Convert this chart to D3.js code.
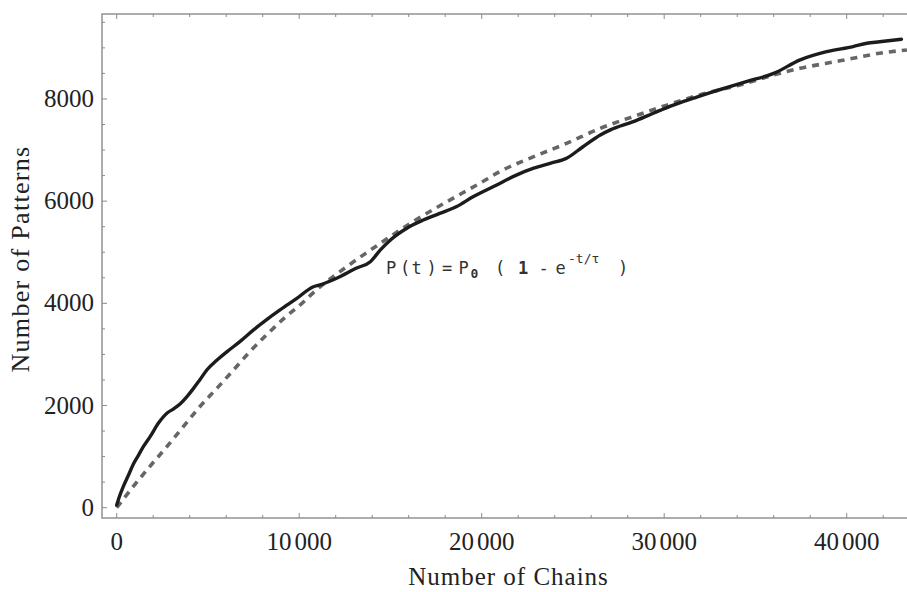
<!DOCTYPE html>
<html>
<head>
<meta charset="utf-8">
<script src="https://cdn.jsdelivr.net/npm/d3@7"></script>
<style>
  html, body { margin: 0; padding: 0; background: #fff; }
  svg { display: block; }
</style>
</head>
<body>
<svg id="chart" width="907" height="592"></svg>
<script>
// ---- data ----
const chainsObserved = [0, 150, 360, 650, 910, 1200, 1460, 1850, 2280, 2750, 3100, 3500, 3850, 4200, 4550, 4950, 5500, 6050, 6750, 7500, 8200, 8950, 9850, 10750, 11150, 12050, 13150, 13900, 14450, 15000, 15900, 16800, 17700, 18600, 19550, 20650, 21900, 22850, 23750, 24650, 25550, 26500, 27050, 28300, 29400, 30500, 31600, 32700, 33500, 34500, 36000, 37450, 38900, 40350, 41100, 41800, 43000];
const patternsObserved = [50, 220, 411, 640, 850, 1030, 1194, 1400, 1652, 1850, 1930, 2040, 2175, 2330, 2500, 2700, 2890, 3055, 3250, 3480, 3675, 3870, 4090, 4320, 4360, 4490, 4690, 4815, 5045, 5240, 5470, 5630, 5760, 5890, 6090, 6285, 6510, 6645, 6740, 6840, 7065, 7295, 7395, 7555, 7720, 7880, 8015, 8145, 8230, 8340, 8500, 8765, 8925, 9025, 9090, 9120, 9170];

const chainsFit = [0, 900, 1800, 2750, 3650, 4550, 5500, 6400, 7300, 8200, 9150, 10250, 10750, 12600, 14450, 16250, 18100, 19900, 21000, 22850, 24650, 26500, 28300, 30150, 31950, 34150, 36000, 37450, 38900, 40350, 41800, 43300];
const patternsFit = [0, 410, 800, 1195, 1585, 1975, 2340, 2695, 3055, 3380, 3700, 4030, 4200, 4715, 5175, 5600, 5990, 6350, 6580, 6870, 7130, 7425, 7655, 7880, 8080, 8275, 8470, 8600, 8700, 8795, 8895, 8960];

const xMajorTicks = [0, 10000, 20000, 30000, 40000];
const xTickLabels = ["0", "10000", "20000", "30000", "40000"];
const yMajorTicks = [0, 2000, 4000, 6000, 8000];
const yTickLabels = ["0", "2000", "4000", "6000", "8000"];

const xTitle = "Number of Chains";
const yTitle = "Number of Patterns";

// ---- layout ----
const svg = d3.select("#chart");
const pL = 102, pR = 909, pT = 14, pB = 518;

const x = d3.scaleLinear().domain([-805, 43414]).range([pL, pR]);
const y = d3.scaleLinear().domain([-202, 9663]).range([pB, pT]);

const frameColor = "#8a8a8a";
const serif = "'Liberation Serif', 'Times New Roman', serif";

// clip
svg.append("defs").append("clipPath").attr("id", "clip")
  .append("rect").attr("x", pL).attr("y", pT).attr("width", pR - pL).attr("height", pB - pT);

// frame
svg.append("rect")
  .attr("x", pL).attr("y", pT)
  .attr("width", pR - pL).attr("height", pB - pT)
  .attr("fill", "none").attr("stroke", frameColor).attr("stroke-width", 1.4);

// minor/major ticks (inward)
const xMinor = d3.range(0, 43414, 2000).filter(v => !xMajorTicks.includes(v));
const yMinor = d3.range(0, 9663, 500).filter(v => !yMajorTicks.includes(v));

const tickG = svg.append("g").attr("stroke", frameColor).attr("stroke-width", 1);
xMajorTicks.forEach(v => {
  tickG.append("line").attr("x1", x(v)).attr("x2", x(v)).attr("y1", pB).attr("y2", pB - 5);
  tickG.append("line").attr("x1", x(v)).attr("x2", x(v)).attr("y1", pT).attr("y2", pT + 5);
});
xMinor.forEach(v => {
  tickG.append("line").attr("x1", x(v)).attr("x2", x(v)).attr("y1", pB).attr("y2", pB - 3);
  tickG.append("line").attr("x1", x(v)).attr("x2", x(v)).attr("y1", pT).attr("y2", pT + 3);
});
yMajorTicks.forEach(v => {
  tickG.append("line").attr("x1", pL).attr("x2", pL + 5).attr("y1", y(v)).attr("y2", y(v));
});
yMinor.forEach(v => {
  tickG.append("line").attr("x1", pL).attr("x2", pL + 3).attr("y1", y(v)).attr("y2", y(v));
});

// x tick labels
xMajorTicks.forEach((v, i) => {
  const lab = xTickLabels[i];
  const t = svg.append("text")
    .attr("x", x(v)).attr("y", 550)
    .attr("text-anchor", "middle")
    .attr("font-family", serif).attr("font-size", 25).attr("fill", "#222");
  if (lab.length > 3) {
    t.append("tspan").text(lab.slice(0, lab.length - 3));
    t.append("tspan").attr("dx", 3).text(lab.slice(-3));
  } else {
    t.text(lab);
  }
});

// y tick labels
yMajorTicks.forEach((v, i) => {
  svg.append("text")
    .attr("x", 94).attr("y", y(v) + 8)
    .attr("text-anchor", "end")
    .attr("font-family", serif).attr("font-size", 25).attr("fill", "#222")
    .text(yTickLabels[i]);
});

// axis titles
svg.append("text")
  .attr("x", (pL + pR) / 2 + 3).attr("y", 585)
  .attr("text-anchor", "middle")
  .attr("font-family", serif).attr("font-size", 25).attr("letter-spacing", 1).attr("fill", "#222")
  .text(xTitle);

svg.append("text")
  .attr("transform", `translate(29, ${(pT + pB) / 2 - 7}) rotate(-90)`)
  .attr("text-anchor", "middle")
  .attr("font-family", serif).attr("font-size", 26).attr("letter-spacing", 1.3).attr("fill", "#222")
  .text(yTitle);

// lines
const plotG = svg.append("g").attr("clip-path", "url(#clip)");

const fitData = chainsFit.map((c, i) => [c, patternsFit[i]]);
const obsData = chainsObserved.map((c, i) => [c, patternsObserved[i]]);

plotG.append("path")
  .datum(fitData)
  .attr("fill", "none")
  .attr("stroke", "#666")
  .attr("stroke-width", 3.6)
  .attr("stroke-dasharray", "7,6")
  .attr("d", d3.line().x(d => x(d[0])).y(d => y(d[1])).curve(d3.curveMonotoneX));

plotG.append("path")
  .datum(obsData)
  .attr("fill", "none")
  .attr("stroke", "#1c1c1c")
  .attr("stroke-width", 3.4)
  .attr("stroke-linejoin", "round")
  .attr("stroke-linecap", "round")
  .attr("d", d3.line().x(d => x(d[0])).y(d => y(d[1])).curve(d3.curveMonotoneX));

// formula annotation
const mono = "'DejaVu Sans Mono', 'Liberation Mono', monospace";
const f = svg.append("text")
  .attr("font-family", mono).attr("font-size", 17).attr("fill", "#333");
const tokens = [
  {s: "P", x: 386}, {s: "(", x: 400}, {s: "t", x: 411.5}, {s: ")", x: 426.5},
  {s: "=", x: 442}, {s: "P", x: 458.5},
  {s: "0", x: 470.5, sub: true},
  {s: "(", x: 495}, {s: "1", x: 518, bold: true}, {s: "-", x: 538.5},
  {s: "e", x: 555.5},
  {s: "-t/τ", x: 568, sup: true},
  {s: ")", x: 618}
];
tokens.forEach(tk => {
  const ts = f.append("tspan").attr("x", tk.x).attr("y", tk.sub ? 278 : tk.sup ? 263 : 274).text(tk.s);
  if (tk.sub || tk.sup) ts.attr("font-size", 13);
  if (tk.bold || tk.sub) ts.attr("font-weight", "bold");
});
</script>
</body>
</html>
